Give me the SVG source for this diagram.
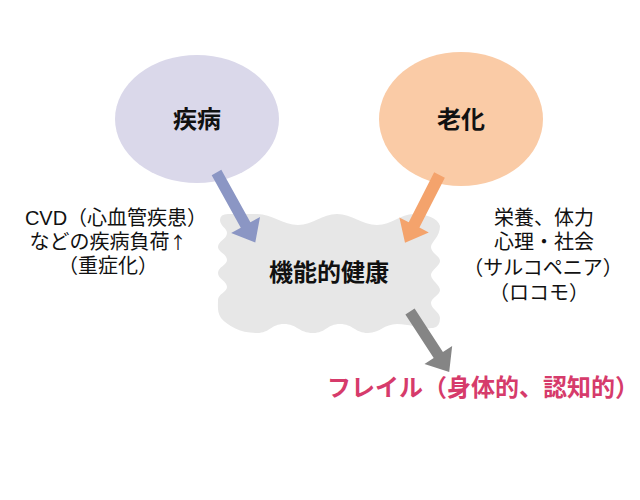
<svg xmlns="http://www.w3.org/2000/svg" width="640" height="500" viewBox="0 0 640 500">
<style>
.lbl{font-family:"Liberation Sans","Noto Sans CJK JP",sans-serif;font-size:24px;font-weight:bold;fill:#111;text-anchor:middle}
.note{font-family:"Liberation Sans","Noto Sans CJK JP",sans-serif;font-size:20px;fill:#111;text-anchor:middle}
.cjk{font-family:"Noto Sans CJK JP",sans-serif;font-size:17px}
.frail{font-family:"Liberation Sans","Noto Sans CJK JP",sans-serif;font-size:24px;font-weight:bold;fill:#D63B6B}
</style>
<rect width="640" height="500" fill="#fff"/>
<g id="node-disease">
<ellipse cx="197" cy="119" rx="82" ry="64" fill="#DAD8EA"/>
<text class="lbl" x="197" y="128">疾病</text>
</g>
<g id="node-aging">
<ellipse cx="461" cy="119" rx="82" ry="67" fill="#FACBA6"/>
<text class="lbl" x="461" y="128">老化</text>
</g>
<g id="node-function">
<path fill="#E7E7E7" d="M220,220 Q220,214 228,214 L257,214 C272,214 283,225 298,225 C313,225 322,214 337,214 C352,214 362,225 377,225 C392,225 400,214 414,214 C426,214 438,218 440,226 C440,237 431,242 431,247 C431,253 440,256 440,261 C440,266 431,270 431,275 C431,280 440,285 440,290 C440,295 431,298 431,303 C431,309 440,312 440,318 Q440,327 433,328 C420,329 410,324 397,324 C384,324 380,333 368,333 C355,333 353,324 340,324 C327,324 326,333 313,333 C299,333 297,324 284,324 C271,324 270,333 257,333 C240,333 228,326 221,318 C217,312 218,306 218,300 C218,294 227,292 227,287 C227,281 218,279 218,273 C218,267 227,265 227,260 C227,254 218,252 218,247 C218,241 227,239 227,233 C227,228 220,226 220,220 Z"/>
<text class="lbl" x="329" y="281">機能的健康</text>
</g>
<g id="connectors">
<g transform="translate(216.5,172.5) rotate(61)"><polygon fill="#8B96C4" points="0,-5.5 60,-5.5 60,-16.5 80,0 60,16.5 60,5.5 0,5.5"/></g>
<g transform="translate(439.5,175) rotate(117)"><polygon fill="#F4A36C" points="0,-6 56,-6 56,-16.5 76,0 56,16.5 56,6 0,6"/></g>
<g transform="translate(410,311.5) rotate(57)"><polygon fill="#858585" points="0,-5.5 52,-5.5 52,-16.5 72,0 52,16.5 52,5.5 0,5.5"/></g>
</g>
<g id="note-left">
<text class="note" x="116" y="225">CVD（心血管疾患）</text>
<text class="note" x="108" y="249">などの疾病負荷<tspan class="cjk">↑</tspan></text>
<text class="note" x="108" y="273">（重症化）</text>
</g>
<g id="note-right">
<text class="note" x="544" y="225">栄養、体力</text>
<text class="note" x="544" y="249">心理・社会</text>
<text class="note" x="543" y="275">（サルコペニア）</text>
<text class="note" x="539" y="300">（ロコモ）</text>
</g>
<g id="node-frailty">
<text class="frail" x="327" y="396">フレイル（身体的、認知的）</text>
</g>
</svg>
